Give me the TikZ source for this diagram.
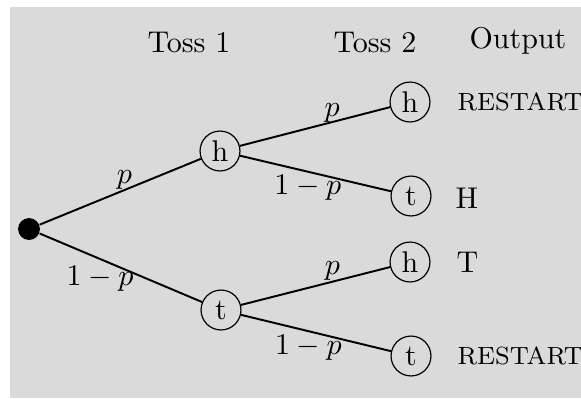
\documentclass[tikz,border=0pt]{standalone}
\begin{document}
\begin{tikzpicture}[x=0.33333pt,y=-0.33333pt,
  st/.style={circle,draw,line width=0.4pt,minimum size=13.3pt,inner sep=0pt},
  edge/.style={line width=0.65pt},
  lbl/.style={inner sep=0pt},
  hdr/.style={anchor=base,inner sep=0pt},
  outp/.style={anchor=base west,inner sep=0pt},
  small/.style={font=\fontsize{8.3}{10}\selectfont}]
\definecolor{bg}{RGB}{218,218,218}
\useasboundingbox (0,0) rectangle (581,398);
\fill[bg] (10,7) rectangle (581,398);
% headers
\node[hdr] (toss1) at (189,52) {Toss 1};
\node[hdr] (toss2) at (375,52) {Toss 2};
\node[hdr] (outh) at (518,48) {Output};
% nodes
\node[fill,circle,minimum size=7.3pt,inner sep=0pt] (r) at (29,229) {};
\node[st] (h1) at (220,151) {h};
\node[st] (t1) at (221,310) {t};
\node[st] (hh) at (410,102) {h};
\node[st] (ht) at (411,196) {t};
\node[st] (th) at (410,262) {h};
\node[st] (tt) at (411,356) {t};
% edges
\draw[edge] (r) -- (h1);
\draw[edge] (r) -- (t1);
\draw[edge] (h1) -- (hh);
\draw[edge] (h1) -- (ht);
\draw[edge] (t1) -- (th);
\draw[edge] (t1) -- (tt);
% edge labels
\path (r.center) -- (h1.center) node[lbl,pos=0.5,yshift=3.2pt] (l1) {$p$};
\path (r.center) -- (t1.center) node[lbl,pos=0.37,yshift=-6.5pt] (l2) {$1-p$};
\path (h1.center) -- (hh.center) node[lbl,pos=0.59,yshift=3.2pt] (l3) {$p$};
\path (h1.center) -- (ht.center) node[lbl,pos=0.46,yshift=-5.3pt] (l4) {$1-p$};
\path (t1.center) -- (th.center) node[lbl,pos=0.59,yshift=3.6pt] (l5) {$p$};
\path (t1.center) -- (tt.center) node[lbl,pos=0.46,yshift=-5.6pt] (l6) {$1-p$};
% outputs
\node[outp,small] (o1) at (457,110) {RESTART};
\node[outp] (o2) at (455,208) {H};
\node[outp] (o3) at (456,272) {T};
\node[outp,small] (o4) at (457,364) {RESTART};
\end{tikzpicture}
\end{document}
